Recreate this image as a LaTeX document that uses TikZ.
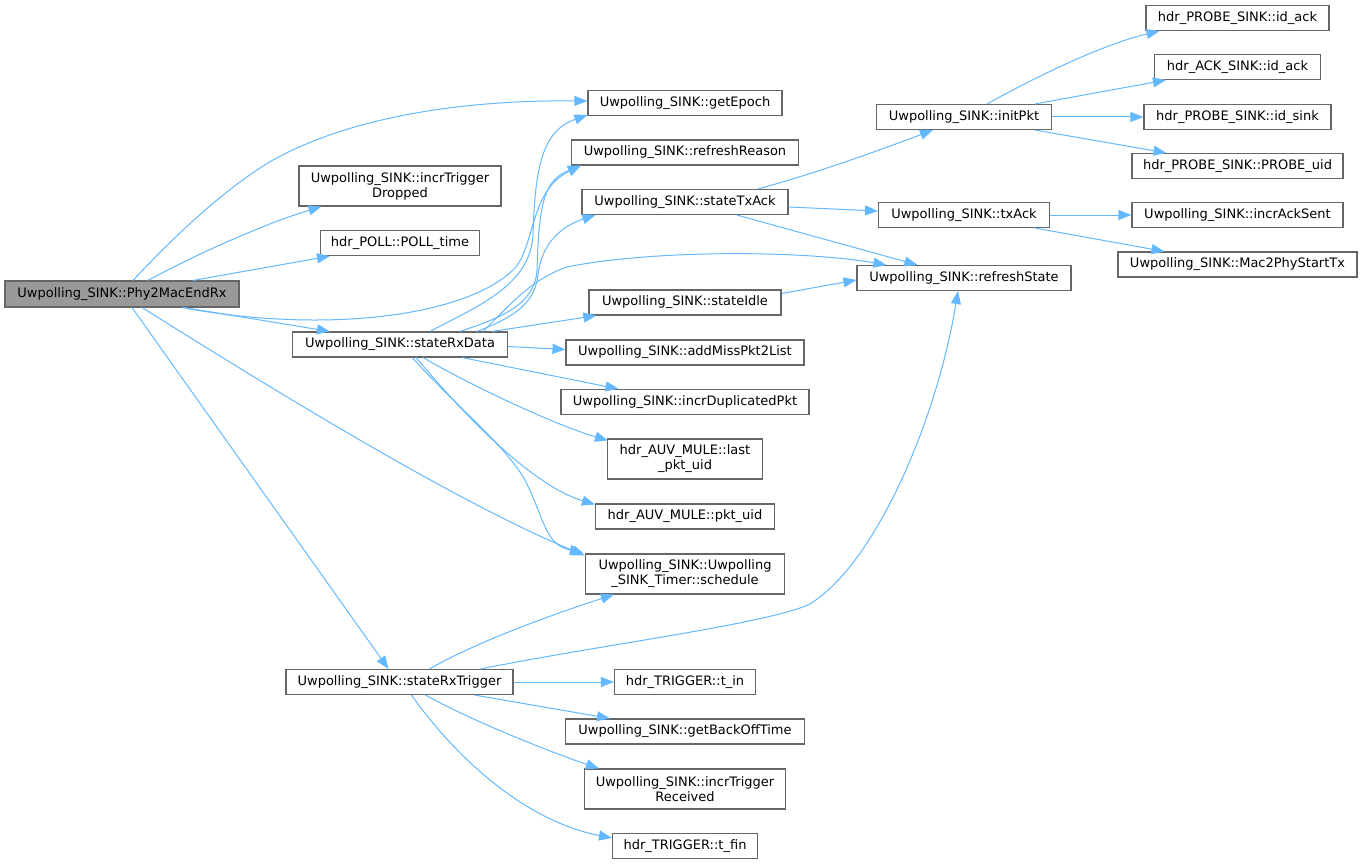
\documentclass[tikz,border=0pt]{standalone}
\usepackage{fontspec}
\setmainfont{DejaVu Sans}
\usetikzlibrary{arrows.meta,calc}
\definecolor{nodeborder}{HTML}{666666}
\definecolor{edgecol}{HTML}{63B8FF}
\definecolor{rootfill}{HTML}{999999}
\tikzset{
  fn/.style={draw=nodeborder, line width=1.1pt, fill=white, inner sep=0pt, align=center,
    font=\fontsize{13}{15}\selectfont, minimum height=25pt},
  fn2/.style={fn, minimum height=40pt},
  root/.style={fn, fill=rootfill},
  call/.style={draw=edgecol, line width=1pt, -{Triangle[length=13pt,width=10pt]}}
}
\begin{document}
\begin{tikzpicture}[x=1pt,y=-1pt]
\useasboundingbox (0,0) rectangle (1363,864);
% nodes
\node[root, minimum width=234pt, minimum height=26pt] (P) at (122,294) {Uwpolling\_SINK::Phy2MacEndRx};
\node[fn2, minimum width=202pt] (ITD) at (400,186) {Uwpolling\_SINK::incrTrigger\\Dropped};
\node[fn, minimum width=159pt] (POLL) at (400,243) {hdr\_POLL::POLL\_time};
\node[fn, minimum width=215pt] (D) at (400,344.5) {Uwpolling\_SINK::stateRxData};
\node[fn, minimum width=227pt] (R) at (399.5,682) {Uwpolling\_SINK::stateRxTrigger};
\node[fn, minimum width=194pt] (GE) at (685,103) {Uwpolling\_SINK::getEpoch};
\node[fn, minimum width=227pt] (RR) at (685,152.5) {Uwpolling\_SINK::refreshReason};
\node[fn, minimum width=206pt] (TA) at (685,202) {Uwpolling\_SINK::stateTxAck};
\node[fn, minimum width=192pt] (SI) at (685,302.5) {Uwpolling\_SINK::stateIdle};
\node[fn, minimum width=238pt] (AM) at (685,352.5) {Uwpolling\_SINK::addMissPkt2List};
\node[fn, minimum width=248pt] (DP) at (685,402) {Uwpolling\_SINK::incrDuplicatedPkt};
\node[fn2, minimum width=155pt] (LU) at (685,459) {hdr\_AUV\_MULE::last\\\_pkt\_uid};
\node[fn, minimum width=179pt] (PU) at (685,516.5) {hdr\_AUV\_MULE::pkt\_uid};
\node[fn2, minimum width=199pt] (SC) at (685,574) {Uwpolling\_SINK::Uwpolling\\\_SINK\_Timer::schedule};
\node[fn, minimum width=141pt] (TI) at (685,682) {hdr\_TRIGGER::t\_in};
\node[fn, minimum width=239pt] (GB) at (685,731.5) {Uwpolling\_SINK::getBackOffTime};
\node[fn2, minimum width=201pt] (IR) at (685,789) {Uwpolling\_SINK::incrTrigger\\Received};
\node[fn, minimum width=145pt] (TF) at (685,846) {hdr\_TRIGGER::t\_fin};
\node[fn, minimum width=214pt] (RS) at (964,278) {Uwpolling\_SINK::refreshState};
\node[fn, minimum width=175pt] (IP) at (964,117) {Uwpolling\_SINK::initPkt};
\node[fn, minimum width=171pt] (TX) at (964,215) {Uwpolling\_SINK::txAck};
\node[fn, minimum width=183pt] (A1) at (1237.5,18) {hdr\_PROBE\_SINK::id\_ack};
\node[fn, minimum width=166pt] (A2) at (1237.5,67) {hdr\_ACK\_SINK::id\_ack};
\node[fn, minimum width=187pt] (A3) at (1237.5,117) {hdr\_PROBE\_SINK::id\_sink};
\node[fn, minimum width=211pt] (A4) at (1237.5,166) {hdr\_PROBE\_SINK::PROBE\_uid};
\node[fn, minimum width=211pt] (A5) at (1237.5,215) {Uwpolling\_SINK::incrAckSent};
\node[fn, minimum width=239pt] (A6) at (1237.5,264.5) {Uwpolling\_SINK::Mac2PhyStartTx};
% edges from Phy2MacEndRx
\draw[call] ($(P.north)+(11,0)$) .. controls (180,230) and (230,185) .. (273,160) .. controls (360,112) and (480,100) .. ($(GE.west)+(0,-2)$);
\draw[call] ($(P.north)+(26,0)$) .. controls (200,252) and (270,222) .. ($(ITD.south west)+(23,0)$);
\draw[call] ($(P.north)+(71,0)$) -- ($(POLL.south west)+(10,0)$);
\draw[call] ($(P.south)+(60,0)$) .. controls (330,335) and (470,315) .. (515,268) .. controls (535,245) and (530,190) .. ($(RR.south west)+(10,0)$);
\draw[call] ($(P.south)+(62,0)$) -- ($(D.north west)+(38,0)$);
\draw[call] ($(P.south)+(20,0)$) .. controls (250,375) and (450,500) .. ($(SC.north west)+(0,2)$);
\draw[call] ($(P.south)+(10,0)$) -- ($(R.north)+(-11,0)$);
% edges from stateRxData
\draw[call] ($(D.north)+(30,0)$) .. controls (480,305) and (530,285) .. (533,235) .. controls (535,160) and (545,130) .. ($(GE.south west)+(0,-1)$);
\draw[call] ($(D.north)+(60,0)$) .. controls (500,318) and (535,305) .. (537,270) .. controls (539,200) and (545,180) .. ($(RR.south west)+(10,0)$);
\draw[call] ($(D.north)+(77,0)$) .. controls (520,315) and (535,300) .. (538,275) .. controls (542,240) and (565,225) .. ($(TA.south west)+(14,0)$);
\draw[call] ($(D.north)+(83,0)$) .. controls (510,305) and (530,280) .. (567,267) .. controls (650,250) and (800,250) .. ($(RS.north west)+(30,0)$);
\draw[call] ($(D.north)+(92,0)$) -- ($(SI.south west)+(8,0)$);
\draw[call] ($(D.east)+(0,2)$) -- ($(AM.west)+(0,-3)$);
\draw[call] ($(D.south)+(62,0)$) -- ($(DP.north west)+(58,0)$);
\draw[call] ($(D.south)+(23,0)$) .. controls (470,385) and (555,425) .. ($(LU.north west)+(1,2)$);
\draw[call] ($(D.south)+(16,0)$) .. controls (460,410) and (530,485) .. ($(PU.north west)+(0,1)$);
\draw[call] ($(D.south)+(12,0)$) .. controls (460,410) and (505,445) .. (525,480) .. controls (545,520) and (545,545) .. ($(SC.north west)+(-2,-1)$);
% edges from stateTxAck / stateIdle
\draw[call] ($(TA.north)+(73,0)$) .. controls (820,172) and (880,150) .. ($(IP.south west)+(57,0)$);
\draw[call] ($(TA.east)+(0,5)$) -- ($(TX.west)+(0,-4)$);
\draw[call] ($(TA.south)+(52,0)$) -- ($(RS.north west)+(61,0)$);
\draw[call] ($(SI.east)+(0,-9)$) -- ($(RS.west)+(0,2)$);
% edges from initPkt / txAck
\draw[call] ($(IP.north)+(23,0)$) .. controls (1030,80) and (1100,45) .. ($(A1.south west)+(14,0)$);
\draw[call] ($(IP.north)+(71,0)$) -- ($(A2.south west)+(12,0)$);
\draw[call] (IP.east) -- (A3.west);
\draw[call] ($(IP.south)+(71,0)$) -- ($(A4.north west)+(35,0)$);
\draw[call] (TX.east) -- (A5.west);
\draw[call] ($(TX.south)+(71,0)$) -- ($(A6.north west)+(47,0)$);
% edges from stateRxTrigger
\draw[call] ($(R.north)+(30,0)$) .. controls (480,640) and (560,612) .. ($(SC.south west)+(29,0)$);
\draw[call] ($(R.north)+(81,0)$) .. controls (600,645) and (760,625) .. (808,605) .. controls (870,570) and (935,430) .. ($(RS.south)+(-6,0)$);
\draw[call] (R.east) -- (TI.west);
\draw[call] ($(R.south)+(75,0)$) -- ($(GB.north west)+(45,0)$);
\draw[call] ($(R.south)+(26,0)$) .. controls (470,720) and (550,752) .. ($(IR.north west)+(15,0)$);
\draw[call] ($(R.south)+(12,0)$) .. controls (450,750) and (520,820) .. ($(TF.west)+(0,-8)$);
\end{tikzpicture}
\end{document}
